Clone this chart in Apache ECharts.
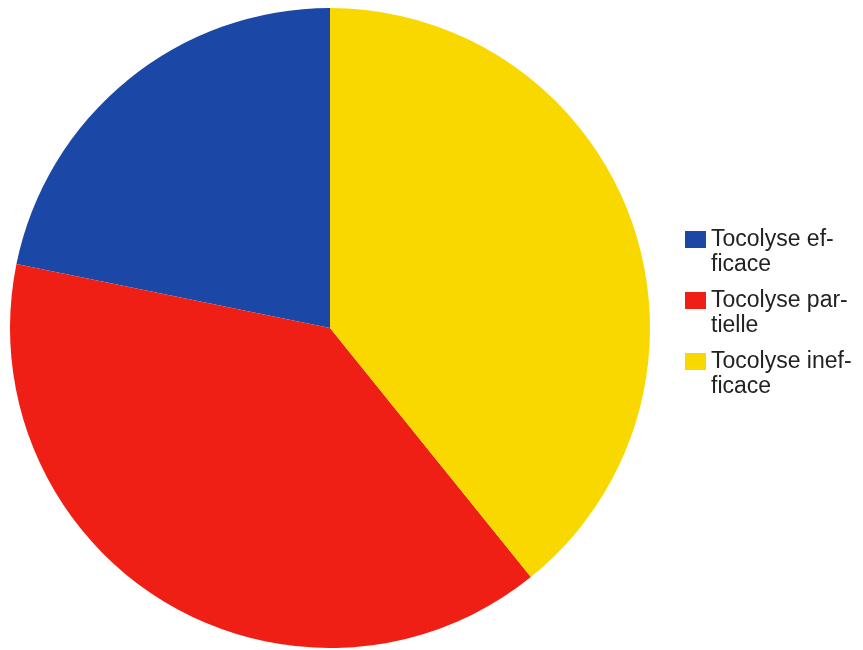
<!DOCTYPE html>
<html>
<head>
<meta charset="utf-8">
<script src="https://cdn.jsdelivr.net/npm/echarts@6/dist/echarts.min.js"></script>
<style>
  html, body { margin: 0; padding: 0; background: #fff; }
  #chart { width: 863px; height: 650px; }
</style>
</head>
<body>
<div id="chart"></div>
<script>
var names = ['Tocolyse efficace', 'Tocolyse partielle', 'Tocolyse inefficace'];
var labels = ['Tocolyse ef-\nficace', 'Tocolyse par-\ntielle', 'Tocolyse inef-\nficace'];
var values = [21.8, 39.0, 39.2];
var colors = ['#1b48a6', '#f01f16', '#f9d800'];

var chart = echarts.init(document.getElementById('chart'));

chart.setOption({
    animation: false,
    color: colors,
    legend: {
        orient: 'vertical',
        left: 680,
        top: 197,
        itemWidth: 21,
        itemHeight: 17,
        itemGap: -14,
        itemTextGap: 9,
        icon: 'rect',
        formatter: function (name) {
            // blank first line so the icon sits beside the first text line
            return ' \n' + labels[names.indexOf(name)];
        },
        textStyle: {
            fontFamily: 'Liberation Sans, Arial, sans-serif',
            fontSize: 23,
            lineHeight: 25,
            color: '#222'
        },
        data: names
    },
    series: [{
        type: 'pie',
        center: [330, 328],
        radius: 320,
        startAngle: 90,
        clockwise: false,
        label: { show: false },
        labelLine: { show: false },
        itemStyle: { borderWidth: 0 },
        data: names.map(function (n, i) {
            return { name: n, value: values[i] };
        })
    }]
});
</script>
</body>
</html>
